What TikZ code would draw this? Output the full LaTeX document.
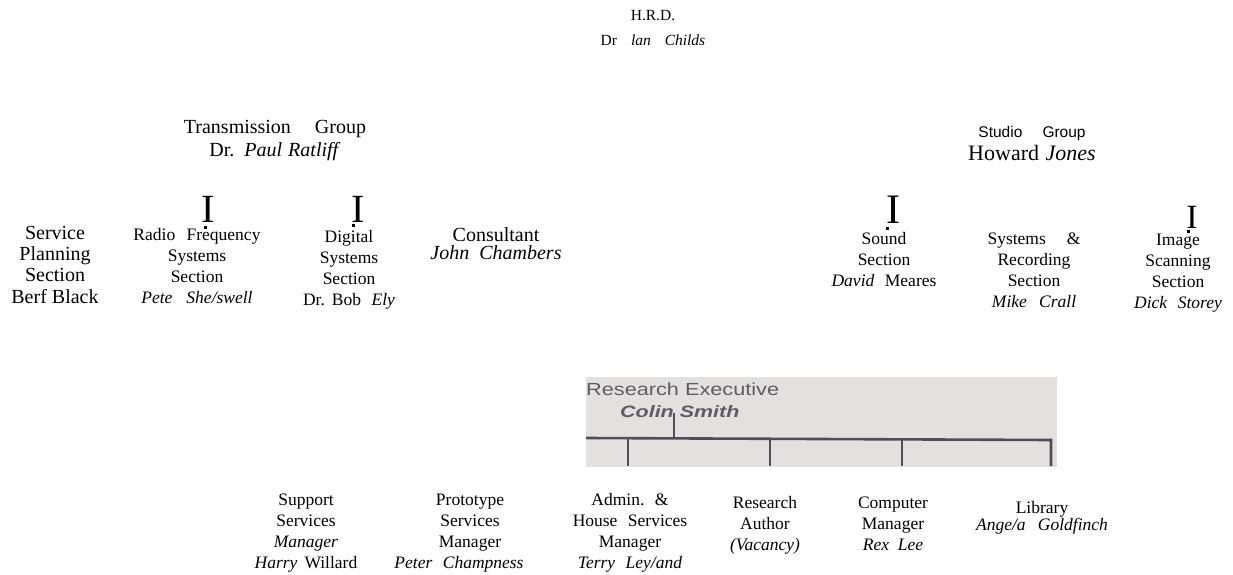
\documentclass[tikz,border=0pt]{standalone}
\usepackage{fontspec}
\setmainfont{Liberation Serif}
\setsansfont{Liberation Sans}
\newfontfamily\wideSans[FakeStretch=1.24]{Liberation Sans}
\newfontfamily\wideSansBI[FakeStretch=1.3,BoldItalicFont={* Bold Italic}]{Liberation Sans}
\definecolor{boxgray}{RGB}{226,225,224}
\definecolor{linegray}{RGB}{78,78,86}
\definecolor{textgray}{RGB}{92,92,98}
\begin{document}
\begin{tikzpicture}[x=1pt,y=-1pt,
  lbl/.style={align=center, inner sep=0pt, anchor=base},
  f17/.style={font=\fontsize{17.5}{21}\selectfont},
  bigI/.style={inner sep=0pt, anchor=base},
  conn/.style={draw=linegray, line width=2.6pt},
  dotmark/.style={fill=black}]
\useasboundingbox (0,0) rectangle (1233,575);
% top (anchor = baseline of the last line)
\node[lbl, font=\fontsize{15.5}{25}\selectfont] (hrd) at (653,46) {H.R.D.\\Dr\hspace{0.9em}\textit{lan}\hspace{0.9em}\textit{Childs}};
\node[lbl, font=\fontsize{20}{24}\selectfont] (trans) at (275,157) {Transmission\hspace{1.2em}Group\\Dr.\hspace{0.5em}\textit{Paul}\hspace{0.3em}\textit{Ratliff}};
\node[lbl, font=\fontsize{22}{23}\selectfont] (studio) at (1032,160) {{\sffamily\fontsize{15.5}{23}\selectfont Studio\hspace{1.3em}Group}\\Howard\hspace{0.3em}\textit{Jones}};
% I marks
\node[bigI, font=\fontsize{40}{40}\selectfont] (i1) at (208,222) {I};
\node[bigI, font=\fontsize{40}{40}\selectfont] (i2) at (358,222) {I};
\node[bigI, font=\fontsize{42}{42}\selectfont] (i3) at (893,223) {I};
\node[bigI, font=\fontsize{34}{34}\selectfont] (i4) at (1192,228) {I};
\fill[dotmark] (204,225.5) rectangle (207,228.5);
\fill[dotmark] (352,223.5) rectangle (355,226.5);
\fill[dotmark] (886,227) rectangle (889,230);
\fill[dotmark] (1187,229.5) rectangle (1190,232.5);
% sections
\node[lbl, font=\fontsize{20}{21.3}\selectfont] (svc) at (55,303) {Service\\Planning\\Section\\Berf Black};
\node[lbl, f17] (rf) at (197,303) {Radio\hspace{0.65em}Frequency\\Systems\\Section\\\textit{Pete\hspace{0.8em}She/swell}};
\node[lbl, f17] (dig) at (349,305) {Digital\\Systems\\Section\\Dr.\hspace{0.4em}Bob\hspace{0.6em}\textit{Ely}};
\node[lbl, font=\fontsize{20}{18}\selectfont] (cons) at (496,259) {Consultant\\\textit{John\hspace{0.5em}Chambers}};
\node[lbl, f17] (sound) at (884,286) {Sound\\Section\\\textit{David}\hspace{0.6em}Meares};
\node[lbl, f17] (sysrec) at (1034,307) {Systems\hspace{1.2em}\&\\Recording\\Section\\\textit{Mike\hspace{0.7em}Crall}};
\node[lbl, f17] (img) at (1178,308) {Image\\Scanning\\Section\\\textit{Dick\hspace{0.6em}Storey}};
% research executive box
\fill[boxgray] (586,377) rectangle (1057,467);
\node[anchor=base west, inner sep=0pt, text=textgray, font=\wideSans\fontsize{17.5}{20}\selectfont] (re) at (586,395) {Research Executive};
\node[anchor=base west, inner sep=0pt, text=textgray, font=\wideSansBI\bfseries\itshape\fontsize{16.5}{20}\selectfont] (colin) at (620,417) {Colin Smith};
\coordinate (cs) at (674,413);
\coordinate (bl) at (586,438);
\coordinate (br) at (1051,440);
\coordinate (t1) at (628,466);
\coordinate (t2) at (770,466);
\coordinate (t3) at (902,466);
\coordinate (t4) at (1051,466);
\draw[conn] (cs) -- (674,438.5);
\draw[conn] (bl) -- (br) -- (t4);
\draw[conn] (t1 |- bl) -- (t1);
\draw[conn] (770,439) -- (t2);
\draw[conn] (902,439.5) -- (t3);
% bottom row
\node[lbl, f17] (sup) at (306,568) {Support\\Services\\\textit{Manager}\\\textit{Harry}\hspace{0.4em}Willard};
\node[lbl, f17] (proto) at (470,568) {Prototype\\Services\\Manager\\\textit{Peter\hspace{0.6em}Champness}\hspace*{22pt}};
\node[lbl, f17] (admin) at (630,568) {Admin.\hspace{0.6em}\&\\House\hspace{0.6em}Services\\Manager\\\textit{Terry\hspace{0.6em}Ley/and}};
\node[lbl, f17] (ra) at (765,550) {Research\\Author\\\textit{(Vacancy)}};
\node[lbl, f17] (comp) at (893,550) {Computer\\Manager\\\textit{Rex\hspace{0.5em}Lee}};
\node[lbl, font=\fontsize{17.5}{17}\selectfont] (lib) at (1042,530) {Library\\\textit{Ange/a\hspace{0.7em}Goldfinch}};
\end{tikzpicture}
\end{document}
